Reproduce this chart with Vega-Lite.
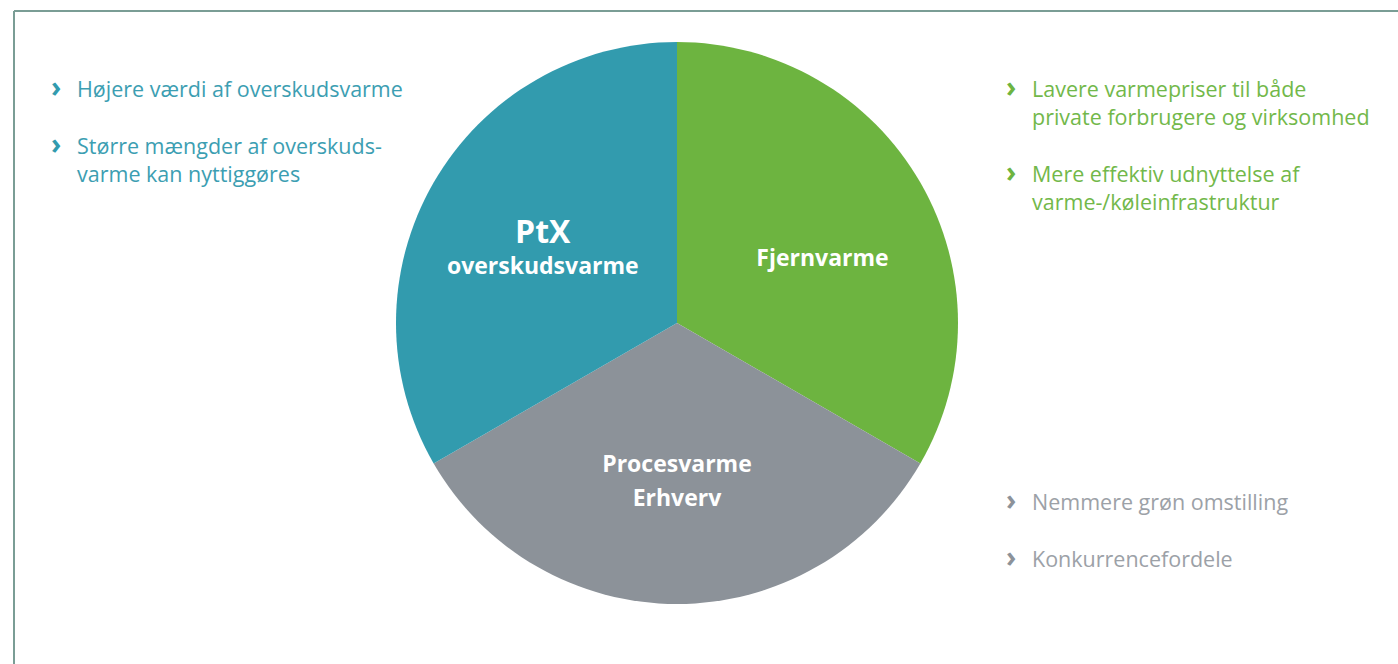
{
  "$schema": "https://vega.github.io/schema/vega-lite/v6.json",
  "width": 1326,
  "height": 624,
  "autosize": {"type": "none"},
  "padding": {"left": 14, "top": 11, "right": 58, "bottom": 29},
  "background": "white",
  "config": {"view": {"stroke": null}, "font": "Open Sans"},
  "datasets": {
    "udsnit": [
      {"kategori": "Fjernvarme", "andel": 1, "orden": 1, "linje1": "", "linje2": "", "enkelt": "Fjernvarme"},
      {"kategori": "Procesvarme Erhverv", "andel": 1, "orden": 2, "linje1": "Procesvarme", "linje2": "Erhverv", "enkelt": ""},
      {"kategori": "PtX overskudsvarme", "andel": 1, "orden": 3, "linje1": "PtX", "linje2": "overskudsvarme", "enkelt": ""}
    ],
    "punkter": [
      {"tekst": "Højere værdi af overskudsvarme", "side": "venstre", "linje": 0, "kategori": "PtX overskudsvarme", "punkt": true},
      {"tekst": "Større mængder af overskuds-", "side": "venstre", "linje": 2, "kategori": "PtX overskudsvarme", "punkt": true},
      {"tekst": "varme kan nyttiggøres", "side": "venstre", "linje": 3, "kategori": "PtX overskudsvarme", "punkt": false},
      {"tekst": "Lavere varmepriser til både", "side": "højre", "linje": 0, "kategori": "Fjernvarme", "punkt": true},
      {"tekst": "private forbrugere og virksomheder", "side": "højre", "linje": 1, "kategori": "Fjernvarme", "punkt": false},
      {"tekst": "Mere effektiv udnyttelse af", "side": "højre", "linje": 3, "kategori": "Fjernvarme", "punkt": true},
      {"tekst": "varme-/køleinfrastruktur", "side": "højre", "linje": 4, "kategori": "Fjernvarme", "punkt": false},
      {"tekst": "Nemmere grøn omstilling", "side": "højre", "linje": 14.6, "kategori": "Procesvarme Erhverv", "punkt": true},
      {"tekst": "Konkurrencefordele", "side": "højre", "linje": 16.6, "kategori": "Procesvarme Erhverv", "punkt": true}
    ]
  },
  "layer": [
    {
      "data": {"values": [{}]},
      "mark": {"type": "rule", "color": "#7A9D95", "strokeWidth": 2},
      "encoding": {"x": {"value": 0}, "y": {"value": 0}, "y2": {"value": 660}}
    },
    {
      "data": {"values": [{}]},
      "mark": {"type": "rule", "color": "#7A9D95", "strokeWidth": 2},
      "encoding": {"y": {"value": 0}, "x": {"value": 0}, "x2": {"value": 1400}}
    },
    {
      "data": {"name": "udsnit"},
      "mark": {"type": "arc", "outerRadius": 281},
      "encoding": {
        "theta": {"field": "andel", "type": "quantitative", "stack": true},
        "order": {"field": "orden", "type": "quantitative"},
        "color": {
          "field": "kategori", "type": "nominal", "legend": null,
          "scale": {"domain": ["Fjernvarme", "Procesvarme Erhverv", "PtX overskudsvarme"], "range": ["#6DB440", "#8C9299", "#329BAE"]}
        }
      }
    },
    {
      "data": {"name": "udsnit"},
      "mark": {"type": "text", "radius": 155, "dy": -13, "color": "white", "fontWeight": "bold", "align": "center", "baseline": "middle"},
      "encoding": {
        "theta": {"field": "andel", "type": "quantitative", "stack": true},
        "order": {"field": "orden", "type": "quantitative"},
        "text": {"field": "linje1"},
        "size": {"condition": {"test": "datum.linje1 === 'PtX'", "value": 32}, "value": 23}
      }
    },
    {
      "data": {"name": "udsnit"},
      "mark": {"type": "text", "radius": 155, "dy": 21, "color": "white", "fontWeight": "bold", "align": "center", "baseline": "middle", "fontSize": 23},
      "encoding": {
        "theta": {"field": "andel", "type": "quantitative", "stack": true},
        "order": {"field": "orden", "type": "quantitative"},
        "text": {"field": "linje2"}
      }
    },
    {
      "data": {"name": "udsnit"},
      "mark": {"type": "text", "radius": 168, "dy": 20, "color": "white", "fontWeight": "bold", "align": "center", "baseline": "middle", "fontSize": 23},
      "encoding": {
        "theta": {"field": "andel", "type": "quantitative", "stack": true},
        "order": {"field": "orden", "type": "quantitative"},
        "text": {"field": "enkelt"}
      }
    },
    {
      "data": {"name": "punkter"},
      "mark": {"type": "text", "align": "left", "baseline": "middle", "fontSize": 21.5, "limit": 346, "ellipsis": "\u200b"},
      "encoding": {
        "x": {"field": "side", "type": "nominal", "axis": null, "scale": {"type": "point", "domain": ["venstre", "højre"], "range": [63, 1018], "padding": 0}},
        "y": {"field": "linje", "type": "quantitative", "axis": null, "scale": {"domain": [0, 20], "range": [80, 646], "zero": false, "nice": false}},
        "text": {"field": "tekst"},
        "color": {
          "field": "kategori", "type": "nominal", "legend": null,
          "scale": {"domain": ["Fjernvarme", "Procesvarme Erhverv", "PtX overskudsvarme"], "range": ["#72B84A", "#9CA1A7", "#3C9EB2"]}
        }
      }
    },
    {
      "data": {"name": "punkter"},
      "transform": [{"filter": "datum.punkt"}],
      "mark": {"type": "text", "align": "left", "baseline": "middle", "fontSize": 28, "fontWeight": "bold", "dx": -26, "dy": -2},
      "encoding": {
        "x": {"field": "side", "type": "nominal", "axis": null, "scale": {"type": "point", "domain": ["venstre", "højre"], "range": [63, 1018], "padding": 0}},
        "y": {"field": "linje", "type": "quantitative", "axis": null, "scale": {"domain": [0, 20], "range": [80, 646], "zero": false, "nice": false}},
        "text": {"value": "›"},
        "color": {
          "field": "kategori", "type": "nominal", "legend": null,
          "scale": {"domain": ["Fjernvarme", "Procesvarme Erhverv", "PtX overskudsvarme"], "range": ["#6DB440", "#8C9299", "#329BAE"]}
        }
      }
    }
  ],
  "resolve": {"scale": {"color": "independent"}}
}
